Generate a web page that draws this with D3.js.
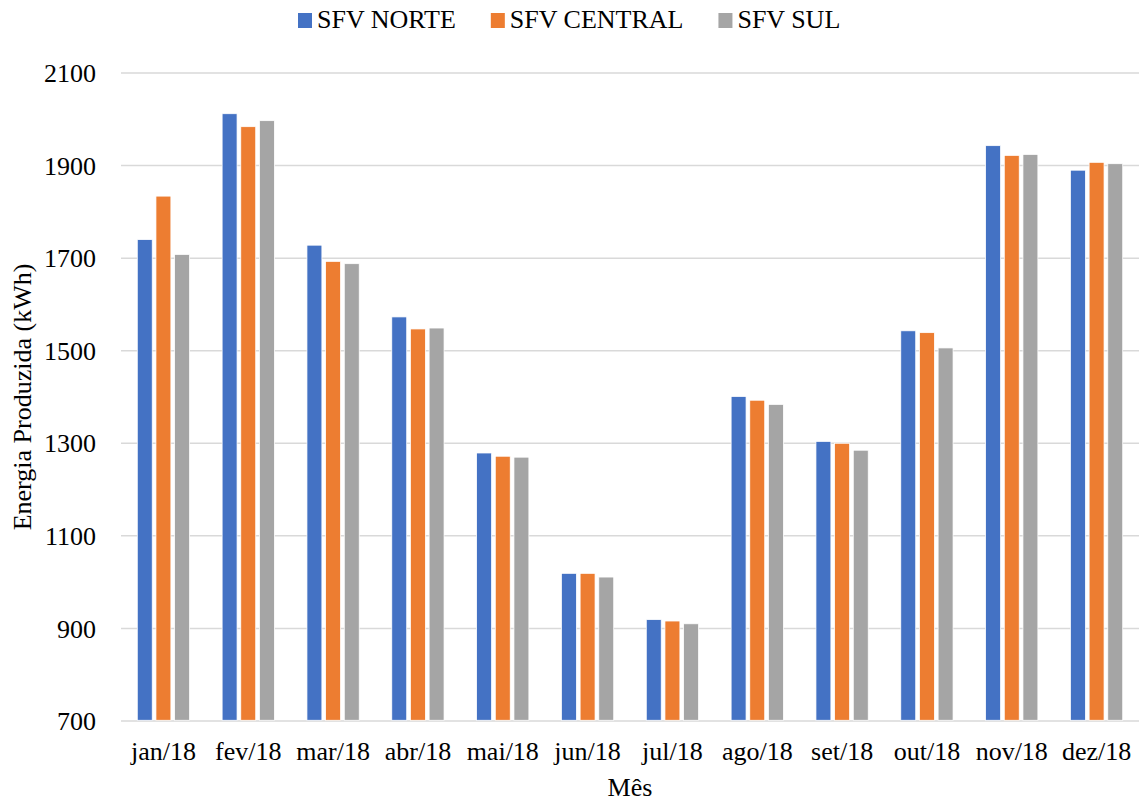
<!DOCTYPE html>
<html>
<head>
<meta charset="utf-8">
<script src="https://cdn.jsdelivr.net/npm/d3@7"></script>
<style>
    body { margin: 0; background: #fff; }
    svg text { font-family: "Liberation Serif", "Times New Roman", serif; fill: #000; }
</style>
</head>
<body>
<div id="chart"></div>
<script>
// Chart data
const months = ["jan/18", "fev/18", "mar/18", "abr/18", "mai/18", "jun/18",
                "jul/18", "ago/18", "set/18", "out/18", "nov/18", "dez/18"];
const seriesNames = ["SFV NORTE", "SFV CENTRAL", "SFV SUL"];
const norte   = [1740, 2012, 1728, 1573, 1279, 1019, 919, 1401, 1304, 1543, 1943, 1890];
const central = [1834, 1984, 1693, 1547, 1272, 1019, 916, 1393, 1300, 1539, 1922, 1907];
const sul     = [1708, 1997, 1688, 1549, 1270, 1011, 910, 1384, 1285, 1506, 1924, 1904];
const yTicks = [700, 900, 1100, 1300, 1500, 1700, 1900, 2100];
const colors = ["#4472C4", "#ED7D31", "#A5A5A5"];

const config = {
    width: 1140,
    height: 801,
    margin: { top: 73, right: 1, bottom: 80, left: 121 },
    fontSize: "26px"
};

const width = config.width - config.margin.left - config.margin.right;
const height = config.height - config.margin.top - config.margin.bottom;

const svg = d3.select("#chart")
    .append("svg")
    .attr("width", config.width)
    .attr("height", config.height);

const g = svg.append("g")
    .attr("transform", `translate(${config.margin.left},${config.margin.top})`);

// Scales
const x0 = d3.scaleBand()
    .domain(months)
    .range([0, width])
    .paddingInner(0.34)
    .paddingOuter(0.17);

const x1 = d3.scaleBand()
    .domain(seriesNames)
    .range([0, x0.bandwidth()])
    .paddingInner(0.2)
    .paddingOuter(0.1);

const y = d3.scaleLinear()
    .domain([700, 2100])
    .range([height, 0]);

// Gridlines
g.append("g")
    .selectAll("line")
    .data(yTicks)
    .enter().append("line")
    .attr("x1", 0)
    .attr("x2", width)
    .attr("y1", d => y(d))
    .attr("y2", d => y(d))
    .attr("stroke", "#d9d9d9")
    .attr("stroke-width", 1.5);

// Y axis labels
const yAxis = d3.axisLeft(y).tickValues(yTicks).tickFormat(d3.format("d")).tickSize(0).tickPadding(25);
g.append("g")
    .attr("class", "y-axis")
    .call(yAxis)
    .call(s => s.select(".domain").remove())
    .selectAll("text")
    .attr("font-size", config.fontSize)
    .attr("dy", "0.33em");

// X axis labels
const xAxis = d3.axisBottom(x0).tickSize(0).tickPadding(21);
g.append("g")
    .attr("class", "x-axis")
    .attr("transform", `translate(0,${height})`)
    .call(xAxis)
    .call(s => s.select(".domain").remove())
    .selectAll("text")
    .attr("font-size", config.fontSize);

// Bars
const data = months.map((m, i) => ({
    month: m,
    values: [norte[i], central[i], sul[i]]
}));

const groups = g.selectAll(".group")
    .data(data)
    .enter().append("g")
    .attr("class", "group")
    .attr("transform", d => `translate(${x0(d.month)},0)`);

groups.selectAll("rect")
    .data(d => d.values.map((v, j) => ({ name: seriesNames[j], value: v, idx: j })))
    .enter().append("rect")
    .attr("x", d => x1(d.name))
    .attr("y", d => y(d.value))
    .attr("width", x1.bandwidth())
    .attr("height", d => y(700) - y(d.value) - 0.75)
    .attr("fill", d => colors[d.idx])
    .attr("stroke", "#fff")
    .attr("stroke-width", 0.75);

// Axis titles
svg.append("text")
    .attr("x", config.margin.left + width / 2)
    .attr("y", 796)
    .attr("text-anchor", "middle")
    .attr("font-size", config.fontSize)
    .text("Mês");

svg.append("text")
    .attr("transform", `translate(31,${config.margin.top + height / 2}) rotate(-90)`)
    .attr("text-anchor", "middle")
    .attr("font-size", config.fontSize)
    .text("Energia Produzida (kWh)");

// Legend
const legend = svg.append("g").attr("class", "legend");
let lx = 298;
seriesNames.forEach((name, i) => {
    legend.append("rect")
        .attr("x", lx)
        .attr("y", 13)
        .attr("width", 14)
        .attr("height", 15)
        .attr("fill", colors[i]);
    const t = legend.append("text")
        .attr("x", lx + 19)
        .attr("y", 28)
        .attr("font-size", config.fontSize)
        .text(name);
    lx += 19 + t.node().getComputedTextLength() + 35;
});
</script>
</body>
</html>
